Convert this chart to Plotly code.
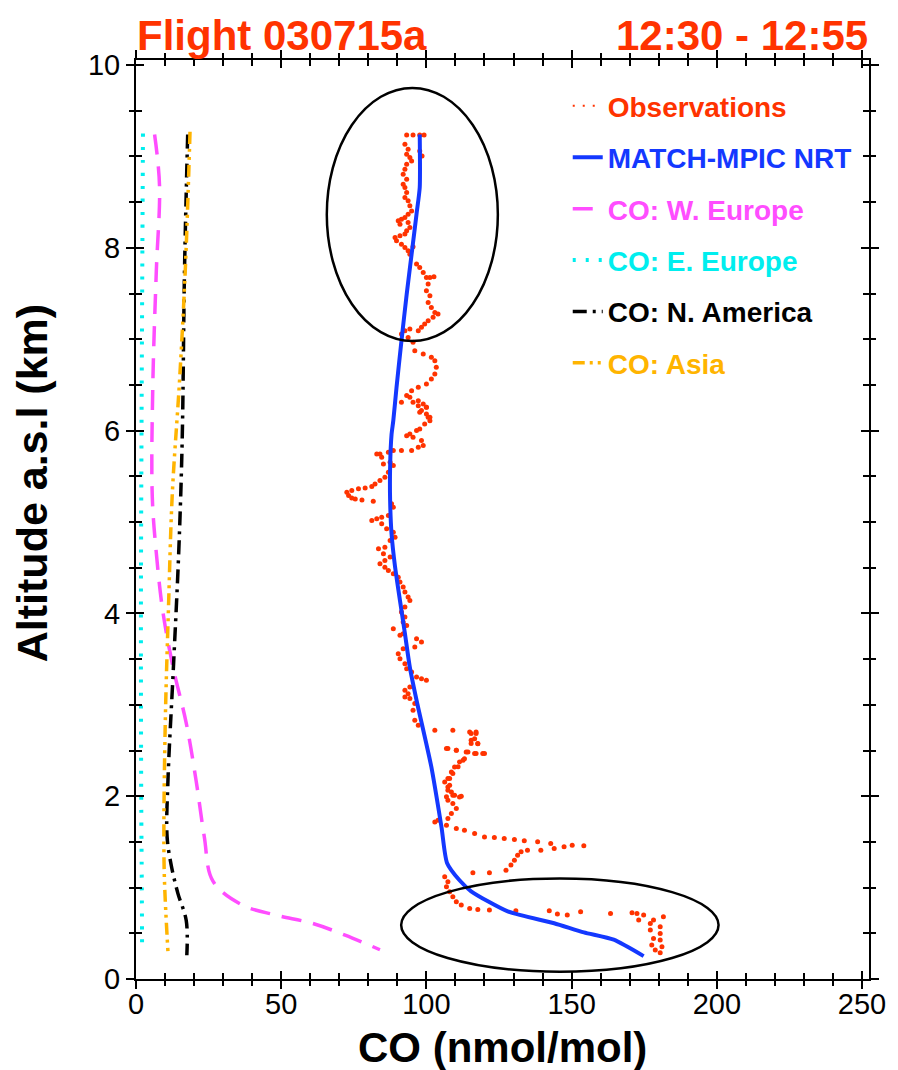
import plotly.graph_objects as go

# ---------------- data ----------------
obs_co = [93.2,95.4,97.7,99.2,92.6,93.7,97.7,93.2,98.5,94.3,94.9,93.2,92.6,92.0,93.2,92.0,92.6,93.2,92.6,93.7,
          94.3,94.9,93.7,92.6,91.4,90.3,90.9,93.7,94.3,93.2,92.6,90.9,89.2,89.7,91.4,92.6,93.7,95.4,94.3,96.6,
          97.7,98.9,100.0,101.2,102.6,100.6,100.0,101.2,100.6,101.7,102.9,104.0,102.3,100.6,99.4,98.3,97.2,94.3,92.6,91.4,
          93.7,95.4,96.0,98.9,101.7,102.9,103.4,102.9,101.7,100.0,97.2,94.9,93.2,94.3,97.2,98.9,100.0,98.3,100.0,101.2,
          91.4,95.4,97.2,100.0,97.7,100.6,101.2,99.4,97.7,96.6,94.3,93.2,95.4,98.3,98.9,97.2,94.9,91.4,88.6,86.9,
          84.0,82.9,84.6,85.2,87.5,88.6,86.9,85.7,84.0,82.3,81.2,78.9,76.6,74.3,72.6,73.2,74.3,75.5,77.8,81.7,
          88.0,88.6,86.9,84.6,82.9,81.2,84.6,86.3,88.6,89.2,87.5,85.7,83.5,85.2,87.5,85.7,84.0,85.7,86.9,88.6,
          90.3,90.9,92.0,92.6,93.7,94.3,92.6,91.4,92.6,92.0,93.2,88.6,92.0,90.9,96.6,98.3,96.0,92.0,90.3,90.9,
          92.6,93.2,94.9,96.6,98.3,100.0,94.3,92.6,93.7,92.6,94.3,
          96.0,95.4,96.0,97.2,102.9,109.1,115.4,117.1,116.6,115.4,117.7,120.0,116.6,113.7,110.3,107.4,112.6,110.9,109.1,108.0,
          107.4,108.6,109.7,112.0,106.9,
          114.9,117.1,115.4,117.7,106.9,110.3,114.3,117.1,119.4,113.1,111.4,109.7,108.6,107.4,106.3,108.0,107.4,109.1,111.4,107.4,
          109.1,110.3,108.6,107.4,104.0,102.9,106.9,110.3,113.1,116.6,120.0,123.4,126.8,130.3,133.7,138.3,142.8,147.4,150.2,154.2,
          144.0,139.4,134.8,132.6,131.4,130.3,129.1,127.4,121.7,116.0,106.3,107.4,106.9,108.0,109.1,110.3,112.0,114.9,117.7,121.7,
          130.8,142.3,145.1,148.5,153.1,163.4,170.8,172.5,174.8,181.6,178.2,173.1,177.1,180.5,177.1,180.5,178.2,180.5,177.6,181.1,
          178.8,180.5]
obs_alt = [9.235,9.235,9.235,9.235,9.133,9.078,9.06,9.024,9.005,8.987,8.951,8.914,8.86,8.805,8.75,8.696,8.66,8.605,8.55,8.514,
           8.459,8.404,8.368,8.332,8.313,8.295,8.259,8.277,8.222,8.186,8.15,8.131,8.113,8.077,8.04,8.004,7.967,8.011,7.931,7.822,
           7.785,7.73,7.676,7.676,7.683,7.603,7.53,7.475,7.403,7.348,7.293,7.275,7.239,7.202,7.166,7.13,7.093,7.111,7.093,7.057,
           7.02,6.966,6.874,6.838,6.802,6.765,6.692,6.619,6.565,6.51,6.474,6.437,6.383,6.364,6.328,6.291,6.255,6.219,6.182,6.146,
           6.31,6.31,6.273,6.255,6.2,6.146,6.109,6.073,6.018,6.0,5.964,5.945,5.927,5.891,5.836,5.818,5.782,5.782,5.782,5.763,
           5.745,5.745,5.709,5.636,5.654,5.618,5.545,5.49,5.454,5.417,5.388,5.373,5.363,5.344,5.326,5.29,5.264,5.253,5.242,5.228,
           5.199,5.162,5.071,5.053,5.035,5.016,4.98,4.925,4.889,4.834,4.798,4.725,4.707,4.652,4.616,4.579,4.543,4.506,4.47,4.434,
           4.397,4.343,4.288,4.233,4.179,4.142,4.069,4.015,3.96,3.905,3.869,3.833,3.778,3.76,3.723,3.687,3.632,3.614,3.559,3.505,
           3.45,3.395,3.359,3.304,3.286,3.268,3.195,3.159,3.122,3.086,3.068,
           3.013,2.94,2.831,2.776,2.721,2.721,2.685,2.703,2.63,2.576,2.576,2.466,2.466,2.485,2.503,2.521,2.394,2.321,2.248,2.193,
           2.102,2.047,2.011,2.0,1.993,
           2.703,2.685,2.612,2.575,2.521,2.503,2.484,2.466,2.466,2.411,2.375,2.32,2.266,2.193,2.156,2.12,2.065,2.011,1.992,1.956,
           1.92,1.865,1.81,1.756,1.737,1.719,1.683,1.646,1.628,1.592,1.555,1.548,1.537,1.526,1.512,1.501,1.483,1.446,1.464,1.457,
           1.428,1.41,1.41,1.391,1.355,1.3,1.246,1.191,1.162,1.162,1.118,1.064,1.009,0.954,0.9,0.845,0.809,0.772,0.761,0.754,
           0.747,0.747,0.71,0.699,0.736,0.717,0.725,0.717,0.699,0.681,0.645,0.645,0.608,0.572,0.535,0.499,0.444,0.426,0.371,0.353,
           0.317,0.288]

match_alt = [9.24,8.66,8.37,7.93,7.49,6.98,6.47,6.11,5.96,5.60,5.24,4.87,4.51,4.14,3.78,3.41,3.05,2.32,1.66,1.27,1.08,0.96,0.74,0.61,0.51,0.43,0.25]
match_co = [97.7,97.7,96.6,94.9,93.2,91.4,89.7,88.6,88.0,87.5,87.5,88.0,89.2,90.9,92.6,94.3,96.6,101.7,105.2,107.1,111.4,115.4,128.0,144.0,154.2,164.5,174.8]

weu_alt = [9.24,8.68,7.75,6.51,5.28,4.66,4.03,3.42,2.80,2.17,1.56,1.07,0.81,0.70,0.61,0.48,0.32]
weu_co = [6.4,8.1,7.0,5.8,5.6,7.0,9.2,12.7,17.3,20.7,23.5,26.5,36.6,48.1,60.6,72.0,84.0]

eeu_alt = [9.25,8.0,6.0,4.0,2.0,1.0,0.3]
eeu_co = [2.4,2.2,1.9,1.7,1.8,2.0,2.1]

nam_alt = [9.24,7.75,5.89,4.66,3.42,2.17,1.56,1.25,0.94,0.64,0.26]
nam_co = [17.8,16.7,15.9,14.7,12.9,11.0,10.7,12.1,14.4,17.3,17.5]

asia_alt = [9.27,7.78,6.55,5.31,4.08,2.84,1.61,1.08,0.30]
asia_co = [18.6,17.0,15.0,12.5,11.2,10.1,9.6,9.8,11.0]

# highlighted regions (ellipses), data units: x0, x1, y0, y1
ellipse_top = (65.7, 124.6, 6.98, 9.75)
ellipse_bottom = (91.3, 200.6, 0.08, 1.10)

x_ticks = [0, 50, 100, 150, 200, 250]
y_ticks = [0, 2, 4, 6, 8, 10]

title_left = "Flight 030715a"
title_right = "12:30 - 12:55"

C_OBS = "#ff3300"
C_MATCH = "#1438ff"
C_WEU = "#ff4dff"
C_EEU = "#00eeee"
C_NAM = "#000000"
C_ASIA = "#ffb400"

FONT = "Liberation Sans, Arial, Helvetica, sans-serif"


def lname(txt, col):
    return f"<b><span style='color:{col}'>{txt}</span></b>"


fig = go.Figure()

fig.add_trace(go.Scatter(x=obs_co, y=obs_alt, mode="markers",
                         marker=dict(color=C_OBS, size=5, line=dict(width=0)),
                         showlegend=False, hoverinfo="skip"))
# legend entries
fig.add_trace(go.Scatter(x=[None], y=[None], mode="lines", name=lname("Observations", C_OBS),
                         line=dict(color=C_OBS, width=2, dash="2px,8px"), legendgroup="a"))
fig.add_trace(go.Scatter(x=match_co, y=match_alt, mode="lines", name=lname("MATCH-MPIC NRT", C_MATCH),
                         line=dict(color=C_MATCH, width=4, shape="spline", smoothing=0.6), legendgroup="b"))
fig.add_trace(go.Scatter(x=weu_co, y=weu_alt, mode="lines", name=lname("CO: W. Europe", C_WEU),
                         line=dict(color=C_WEU, width=3.5, dash="20px,12px", shape="spline"), legendgroup="c"))
fig.add_trace(go.Scatter(x=eeu_co, y=eeu_alt, mode="lines", name=lname("CO: E. Europe", C_EEU),
                         line=dict(color=C_EEU, width=4, dash="3px,10px", shape="spline"), legendgroup="d"))
fig.add_trace(go.Scatter(x=nam_co, y=nam_alt, mode="lines", name=lname("CO: N. America", C_NAM),
                         line=dict(color=C_NAM, width=3.5, dash="14px,6px,3px,6px", shape="spline"), legendgroup="e"))
fig.add_trace(go.Scatter(x=asia_co, y=asia_alt, mode="lines", name=lname("CO: Asia", C_ASIA),
                         line=dict(color=C_ASIA, width=3.5, dash="12px,5px,3px,5px,3px,5px", shape="spline"), legendgroup="f"))
# trace for the overlay axes (inner ticks)
fig.add_trace(go.Scatter(x=[None], y=[None], xaxis="x2", yaxis="y2", showlegend=False, hoverinfo="skip"))

for e in (ellipse_top, ellipse_bottom):
    fig.add_shape(type="circle", xref="x", yref="y", x0=e[0], x1=e[1], y0=e[2], y1=e[3],
                  line=dict(color="black", width=2.5))

XR = [0, 252.4]
YR = [0, 10.055]

# the page places the figure 8px from the top-left corner; size accordingly
fig.update_layout(
    width=890, height=1062,
    margin=dict(l=128, r=25, t=52, b=91),
    paper_bgcolor="white", plot_bgcolor="white",
    font=dict(family=FONT, size=29, color="black"),
    xaxis=dict(range=XR, tickvals=x_ticks, ticks="outside", ticklen=8, tickwidth=2, tickcolor="black",
               showline=True, linewidth=2, linecolor="black", mirror="allticks", showgrid=False, zeroline=False,
               minor=dict(dtick=10, tick0=0, ticks="outside", ticklen=5, tickwidth=2, tickcolor="black"),
               tickfont=dict(size=29), ticklabelstandoff=-10),
    yaxis=dict(range=YR, tickvals=y_ticks, ticks="outside", ticklen=8, tickwidth=2, tickcolor="black",
               showline=True, linewidth=2, linecolor="black", mirror="allticks", showgrid=False, zeroline=False,
               minor=dict(dtick=0.5, tick0=0, ticks="outside", ticklen=5, tickwidth=2, tickcolor="black"),
               tickfont=dict(size=29)),
    xaxis2=dict(range=XR, overlaying="x", anchor="y2", tickvals=x_ticks, ticks="inside", ticklen=8, tickwidth=2,
                tickcolor="black", showticklabels=False, showline=False, mirror="allticks", showgrid=False,
                zeroline=False,
                minor=dict(dtick=10, tick0=0, ticks="inside", ticklen=6, tickwidth=2, tickcolor="black")),
    yaxis2=dict(range=YR, overlaying="y", anchor="x2", tickvals=y_ticks, ticks="inside", ticklen=8, tickwidth=2,
                tickcolor="black", showticklabels=False, showline=False, mirror="allticks", showgrid=False,
                zeroline=False,
                minor=dict(dtick=0.5, tick0=0, ticks="inside", ticklen=6, tickwidth=2, tickcolor="black")),
    legend=dict(x=0.589, y=0.977, xanchor="left", yanchor="top", bgcolor="rgba(0,0,0,0)",
                font=dict(family=FONT, size=28), tracegroupgap=12, itemclick=False),
    showlegend=True,
)

fig.add_annotation(text=f"<b>{title_left}</b>", xref="paper", yref="paper", x=0.0, y=1.0272,
                   xanchor="left", yanchor="middle", showarrow=False, borderpad=0,
                   font=dict(family=FONT, size=42, color=C_OBS))
fig.add_annotation(text=f"<b>{title_right}</b>", xref="paper", yref="paper", x=1.0, y=1.0272,
                   xanchor="right", yanchor="middle", showarrow=False, borderpad=0,
                   font=dict(family=FONT, size=42, color=C_OBS))
fig.add_annotation(text="<b>Altitude a.s.l (km)</b>", xref="paper", yref="paper", x=-0.1416, y=0.5397,
                   xanchor="center", yanchor="middle", textangle=-90, showarrow=False,
                   font=dict(family=FONT, size=43, color="black"))
fig.add_annotation(text="<b>CO (nmol/mol)</b>", xref="paper", yref="paper", x=0.5, y=-0.074,
                   xanchor="center", yanchor="middle", showarrow=False,
                   font=dict(family=FONT, size=42, color="black"))

fig.write_html("out.html")
